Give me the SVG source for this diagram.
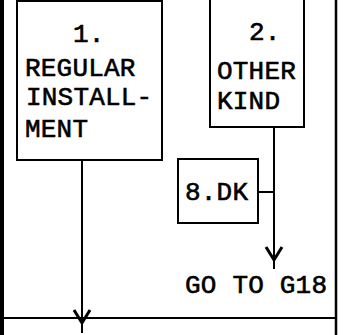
<svg xmlns="http://www.w3.org/2000/svg" width="345" height="335" viewBox="0 0 345 335">
<style>
.box{fill:#fff;stroke:#000;stroke-width:2}
.ln{stroke:#000;stroke-width:2;fill:none}
.t{font-family:"Liberation Mono","DejaVu Sans Mono",monospace;font-size:26px;fill:#000;stroke:#000;stroke-width:0.6px;letter-spacing:0.2px}
</style>
<defs>
<path id="arrowV" d="M-8,-13 L0,0 L8,-13" fill="none" stroke="#000" stroke-width="3"/>
</defs>
<rect width="345" height="335" fill="#fff"/>
<g id="frame">
<line x1="2" y1="0" x2="2" y2="335" stroke="#000" stroke-width="4"/>
<line x1="336" y1="0" x2="336" y2="335" stroke="#000" stroke-width="2.5"/>
</g>
<g id="connectors">
<line class="ln" x1="82" y1="160" x2="82" y2="333"/>
<use href="#arrowV" x="82" y="323"/>
<line class="ln" x1="274" y1="127" x2="274" y2="269"/>
<use href="#arrowV" x="274" y="260"/>
<line class="ln" x1="258" y1="192" x2="274" y2="192"/>
<line class="ln" x1="2" y1="318" x2="336" y2="318" stroke-width="2.5"/>
</g>
<g id="node1">
<rect class="box" x="17" y="1" width="145" height="159"/>
<text class="t" x="73" y="42">1.</text>
<text class="t" x="25" y="76">REGULAR</text>
<text class="t" x="26" y="105">INSTALL-</text>
<text class="t" x="25" y="137">MENT</text>
</g>
<g id="node2">
<rect class="box" x="210" y="-1" width="94" height="128"/>
<text class="t" x="249" y="40">2.</text>
<text class="t" x="217" y="79">OTHER</text>
<text class="t" x="217" y="109">KIND</text>
</g>
<g id="node8">
<rect class="box" x="178" y="159" width="80" height="64"/>
<text class="t" x="185" y="200">8.DK</text>
</g>
<g id="goto">
<text class="t" x="185" y="293">GO TO G18</text>
</g>
</svg>
